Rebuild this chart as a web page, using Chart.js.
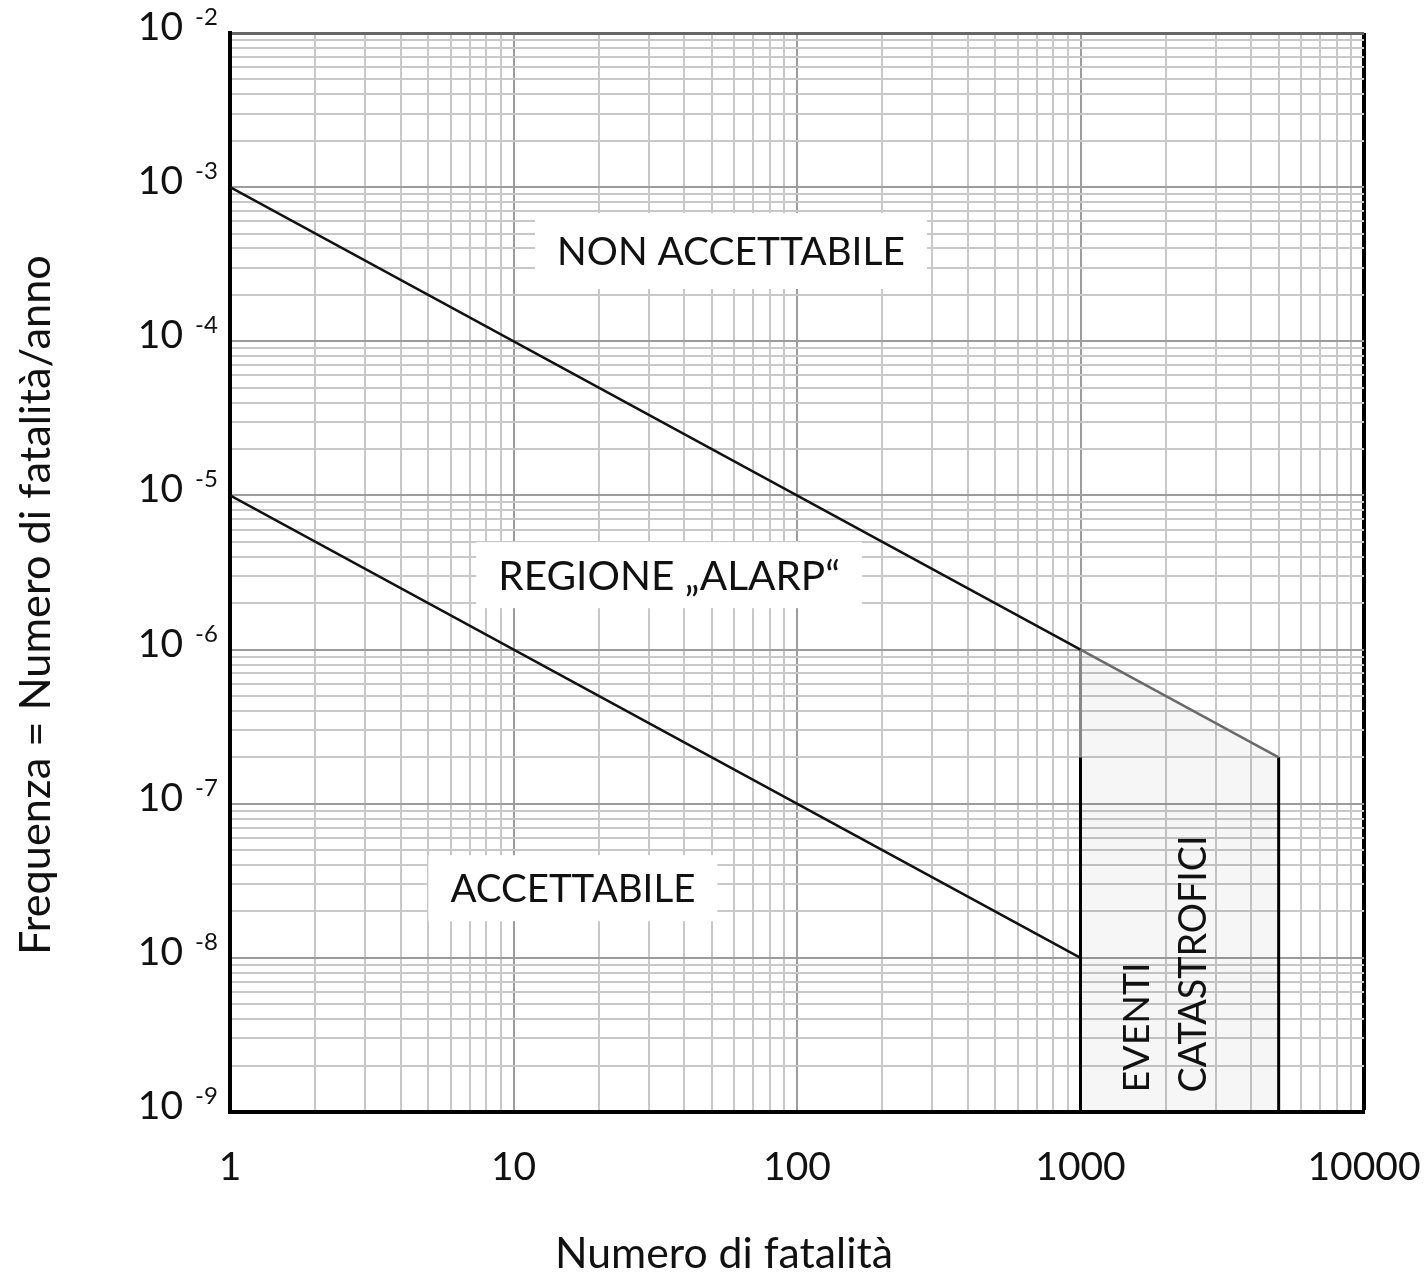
<!DOCTYPE html>
<html>
<head>
<meta charset="utf-8">
<script src="https://cdn.jsdelivr.net/npm/chart.js@4/dist/chart.umd.min.js"></script>
<style>
  html, body { margin: 0; padding: 0; background: #fff; }
  #wrap { width: 1424px; height: 1275px; }
</style>
</head>
<body>
<div id="wrap"><canvas id="chart" width="1424" height="1275"></canvas></div>
<script>
// F-N curve: frequency of events vs number of fatalities (log-log)

// axis decades
const xDecades = [1, 10, 100, 1000, 10000];
const yExponents = [-9, -8, -7, -6, -5, -4, -3, -2];

// limit lines
const limitFatalities = [1, 1000];
const upperLimit = [1e-3, 1e-6];
const lowerLimit = [1e-5, 1e-8];

// catastrophic events zone
const catFatalities = [1000, 5000];
const catUpper = [1e-6, 2e-7];
const catFloor = 1e-9;

// region labels: text, x, y (data coords of the text centre)
const regionLabels = [
  ['NON ACCETTABILE', 58.5, 3.85e-4],
  ['REGIONE \u201EALARP\u201C', 35.4, 3.04e-6],
  ['ACCETTABILE', 16.2, 2.83e-8]
];
const catLabels = [['EVENTI', 1557], ['CATASTROFICI', 2473]];
const catLabelBase = 1.34e-9;

const xTitle = 'Numero di fatalit\u00E0';
const yTitle = 'Frequenza = Numero di fatalit\u00E0/anno';

const FONT = 'Lato, "Open Sans", sans-serif';
const meas = document.createElement('canvas').getContext('2d');
function fitSize(text, width) {
  meas.font = '100px ' + FONT;
  return 100 * width / meas.measureText(text).width;
}

function isDecade(v) {
  const l = Math.log10(v);
  return Math.abs(l - Math.round(l)) < 1e-6;
}

// grid lines at 1..9 in every decade
const xGrid = [];
for (let i = 0; i < xDecades.length - 1; i++) {
  for (let k = 1; k < 10; k++) xGrid.push(k * xDecades[i]);
}
xGrid.push(xDecades[xDecades.length - 1]);

const yGrid = [];
for (let i = 0; i < yExponents.length - 1; i++) {
  for (let k = 1; k < 10; k++) yGrid.push(Number((k * Math.pow(10, yExponents[i])).toPrecision(3)));
}
yGrid.push(Math.pow(10, yExponents[yExponents.length - 1]));

const xMax = xDecades[xDecades.length - 1];
const yMax = Math.pow(10, yExponents[yExponents.length - 1]);

function pts(xs, ys) {
  return xs.map((x, i) => ({ x: x, y: ys[i] }));
}

const labelWidths = [348, 342, 245];
const labelBoxH = [76, 66, 66];
const catWidths = [130, 257];

const annotate = {
  id: 'annotate',
  afterDatasetsDraw(chart) {
    const { ctx } = chart;
    const x = chart.scales.x, y = chart.scales.y;
    ctx.save();
    // region labels on white boxes
    regionLabels.forEach(([text, vx, vy], i) => {
      const px = x.getPixelForValue(vx), py = y.getPixelForValue(vy);
      const size = fitSize(text, labelWidths[i]);
      ctx.font = size + 'px ' + FONT;
      const w = ctx.measureText(text).width;
      ctx.fillStyle = '#fff';
      ctx.fillRect(px - w / 2 - 22, py - labelBoxH[i] / 2, w + 44, labelBoxH[i]);
      ctx.fillStyle = '#111';
      ctx.textAlign = 'center';
      ctx.textBaseline = 'alphabetic';
      ctx.fillText(text, px, py + size * 0.36);
    });
    // vertical text in the catastrophic zone
    catLabels.forEach(([text, vx], i) => {
      const px = x.getPixelForValue(vx), py = y.getPixelForValue(catLabelBase);
      const size = fitSize(text, catWidths[i]);
      ctx.save();
      ctx.translate(px, py);
      ctx.rotate(-Math.PI / 2);
      ctx.font = size + 'px ' + FONT;
      ctx.fillStyle = '#111';
      ctx.textAlign = 'left';
      ctx.textBaseline = 'alphabetic';
      ctx.fillText(text, 0, size * 0.36);
      ctx.restore();
    });
    ctx.restore();
  },
  afterDraw(chart) {
    const { ctx } = chart;
    const y = chart.scales.y;
    ctx.save();
    ctx.fillStyle = '#111';
    // y tick labels 10^n
    yExponents.forEach(e => {
      const py = y.getPixelForValue(Math.pow(10, e));
      ctx.font = '39px ' + FONT;
      ctx.textAlign = 'right';
      ctx.textBaseline = 'alphabetic';
      ctx.fillText('10', 183, py + 7);
      ctx.font = '24px ' + FONT;
      ctx.textAlign = 'left';
      ctx.fillText('-' + Math.abs(e), 195, py - 8);
    });
    // axis titles
    ctx.textAlign = 'center';
    ctx.textBaseline = 'alphabetic';
    ctx.font = fitSize(xTitle, 338) + 'px ' + FONT;
    ctx.fillText(xTitle, 724, 1268);
    ctx.save();
    ctx.translate(50, 605);
    ctx.rotate(-Math.PI / 2);
    ctx.font = fitSize(yTitle, 700) + 'px ' + FONT;
    ctx.fillText(yTitle, 0, 0);
    ctx.restore();
    ctx.restore();
  }
};

new Chart(document.getElementById('chart'), {
  type: 'line',
  data: {
    datasets: [
      {
        data: pts(catFatalities, catUpper),
        borderColor: '#6a6a6a',
        borderWidth: 2.5,
        fill: 'start',
        backgroundColor: 'rgba(0,0,0,0.035)'
      },
      {
        data: pts(limitFatalities, upperLimit),
        borderColor: '#111',
        borderWidth: 2.5
      },
      {
        data: pts(limitFatalities, lowerLimit),
        borderColor: '#111',
        borderWidth: 2.5
      },
      {
        data: pts([catFatalities[0], catFatalities[0]], [catUpper[1], catUpper[0]]),
        borderColor: '#8a8a8a',
        borderWidth: 3
      },
      {
        data: pts([catFatalities[0], catFatalities[0]], [catFloor, catUpper[1]]),
        borderColor: '#000',
        borderWidth: 3
      },
      {
        data: pts([catFatalities[1], catFatalities[1]], [catFloor, catUpper[1]]),
        borderColor: '#000',
        borderWidth: 3
      }
    ]
  },
  options: {
    responsive: false,
    animation: false,
    layout: { padding: { top: 33, right: 60, left: 0, bottom: 0 } },
    elements: { point: { radius: 0 }, line: { tension: 0 } },
    plugins: { legend: { display: false }, tooltip: { enabled: false } },
    scales: {
      x: {
        type: 'logarithmic',
        min: xDecades[0],
        max: xMax,
        afterBuildTicks: s => { s.ticks = xGrid.map(v => ({ value: v, major: isDecade(v) })); },
        afterFit: s => { s.height = 163; s.paddingLeft = 0; s.paddingRight = 0; },
        grid: {
          drawTicks: false,
          color: c => (c.tick && c.tick.value === xMax) ? '#000' : (c.tick && isDecade(c.tick.value) ? '#9c9c9c' : '#c8c8c8'),
          lineWidth: c => (c.tick && c.tick.value === xMax) ? 4 : 2
        },
        border: { color: '#000', width: 4 },
        ticks: {
          autoSkip: false,
          maxRotation: 0,
          padding: 32,
          color: '#111',
          font: { family: FONT, size: 39 },
          callback: v => xDecades.includes(v) ? String(v) : ''
        }
      },
      y: {
        type: 'logarithmic',
        min: Math.pow(10, yExponents[0]),
        max: yMax,
        afterBuildTicks: s => { s.ticks = yGrid.map(v => ({ value: v, major: isDecade(v) })); },
        afterFit: s => { s.width = 230; s.paddingTop = 0; s.paddingBottom = 0; },
        grid: {
          drawTicks: false,
          color: c => (c.tick && c.tick.value === yMax) ? '#666' : (c.tick && isDecade(c.tick.value) ? '#9c9c9c' : '#c8c8c8'),
          lineWidth: c => (c.tick && c.tick.value === yMax) ? 3 : 2
        },
        border: { color: '#000', width: 4 },
        ticks: { display: false }
      }
    }
  },
  plugins: [annotate]
});
</script>
</body>
</html>
